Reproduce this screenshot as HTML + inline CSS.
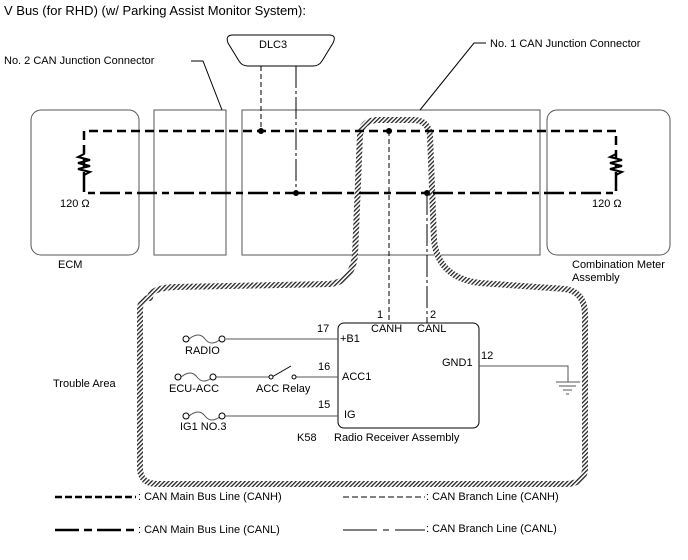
<!DOCTYPE html>
<html><head><style>body{margin:0;background:#fff}svg{display:block}text{font-family:"Liberation Sans",sans-serif;font-size:11px;fill:#000}</style></head><body>
<svg width="688" height="560" viewBox="0 0 688 560">
<defs><pattern id="h" width="3" height="3" patternUnits="userSpaceOnUse" patternTransform="rotate(45)"><rect width="3" height="3" fill="#fff"/><rect width="1.3" height="3" fill="#222"/></pattern></defs>
<text x="4" y="15" style="font-size:13px">V Bus (for RHD) (w/ Parking Assist Monitor System):</text>
<g fill="none" stroke="#555" stroke-width="1">
<rect x="31" y="110" width="108" height="145" rx="10"/>
<rect x="154" y="110" width="72" height="145"/>
<rect x="242" y="110" width="298" height="145"/>
<rect x="547" y="110" width="123" height="145" rx="10"/>
<path d="M233 35 H329 Q337 35 333 43 L322 61 Q319 66 313 66 H248 Q242 66 239 61 L228 43 Q225 35 233 35Z" stroke="#000"/>
<path d="M191 61 H203 L222 110" stroke="#000"/>
<path d="M486 43 H474 L420 110" stroke="#000"/>
</g>
<text x="259" y="48">DLC3</text>
<text x="4" y="64">No. 2 CAN Junction Connector</text>
<text x="490" y="47">No. 1 CAN Junction Connector</text>
<text x="60" y="207">120 Ω</text>
<text x="592" y="207">120 Ω</text>
<text x="58" y="268">ECM</text>
<text x="572" y="268">Combination Meter</text>
<text x="572" y="281">Assembly</text>
<path d="M150 298 Q150 288 175 287 L330 284 Q352 282 355 255 L360 135 Q362 120 378 120 H413 Q428 120 430 135 L434 240 Q438 278 480 283 L565 289 Q585 292 585 315 V468 Q585 484 565 484 H158 Q140 484 140 468 V310 Q140 298 150 298Z" fill="none" stroke="url(#h)" stroke-width="6"/>
<g fill="none" stroke="#000">
<path d="M84 168 V131 H616 V168" stroke-width="2.5" stroke-dasharray="9,5"/>
<path d="M84 172 V193 H616 V172" stroke-width="2.5" stroke-dasharray="20,5,7,5"/>
<path d="M84 150 v4 l-6 3 12 3 -12 3 12 3 -12 3 12 3 -6 3 v4" stroke-width="2"/>
<path d="M616 150 v4 l-6 3 12 3 -12 3 12 3 -12 3 12 3 -6 3 v4" stroke-width="2"/>
<path d="M261 66 V131" stroke-dasharray="5,3"/>
<path d="M296 66 V193" stroke-dasharray="22,3,3,3"/>
<path d="M389 131 V323" stroke-dasharray="5,3"/>
<path d="M427 193 V323" stroke-dasharray="22,3,3,3"/>
</g>
<g fill="#000"><circle cx="261" cy="131" r="3"/><circle cx="296" cy="193" r="3"/><circle cx="389" cy="131" r="3"/><circle cx="427" cy="193" r="3"/></g>
<rect x="338" y="323" width="141" height="105" rx="6" fill="none" stroke="#000"/>
<g fill="none" stroke="#555">
<path d="M226 339 H338 M219 416 H338 M215 377 H271 M296 377 H338 M479 366 H568 V382"/>
<path d="M272 377 L291 366" stroke="#000"/>
<path d="M556 382 H580 M559 386 H576 M563 390 H572 M566 394 H569"/>
<path d="M189 339 q10 -8 16 0 t16 0 M181 377 q10 -8 16 0 t16 0 M189 416 q10 -8 16 0 t16 0"/>
</g>
<g fill="#fff" stroke="#000"><circle cx="186" cy="339" r="3"/><circle cx="222" cy="339" r="3"/><circle cx="178" cy="377" r="3"/><circle cx="213" cy="377" r="3"/><circle cx="186" cy="416" r="3"/><circle cx="222" cy="416" r="3"/><circle cx="271" cy="377" r="2"/><circle cx="294" cy="377" r="2"/></g>
<text x="185" y="354">RADIO</text><text x="169" y="392">ECU-ACC</text><text x="256" y="392">ACC Relay</text><text x="180" y="430">IG1 NO.3</text>
<text x="53" y="387">Trouble Area</text>
<text x="317" y="332">17</text><text x="340" y="342">+B1</text>
<text x="318" y="370">16</text><text x="342" y="380">ACC1</text>
<text x="318" y="408">15</text><text x="344" y="418">IG</text>
<text x="377" y="318">1</text><text x="430" y="318">2</text>
<text x="371" y="332">CANH</text><text x="417" y="332">CANL</text>
<text x="442" y="366">GND1</text><text x="481" y="359">12</text>
<text x="297" y="441">K58</text><text x="334" y="441">Radio Receiver Assembly</text>
<g fill="none" stroke="#000">
<path d="M55 497 H136" stroke-width="2.5" stroke-dasharray="7,3"/>
<path d="M55 530 H136" stroke-width="2.5" stroke-dasharray="24,5,8,5"/>
<path d="M343 497 H425" stroke-dasharray="6,3"/>
<path d="M343 530 H425" stroke-dasharray="34,6,6,6"/>
</g>
<text x="138" y="500">: CAN Main Bus Line (CANH)</text>
<text x="138" y="533">: CAN Main Bus Line (CANL)</text>
<text x="426" y="500">: CAN Branch Line (CANH)</text>
<text x="426" y="532">: CAN Branch Line (CANL)</text>
</svg></body></html>
